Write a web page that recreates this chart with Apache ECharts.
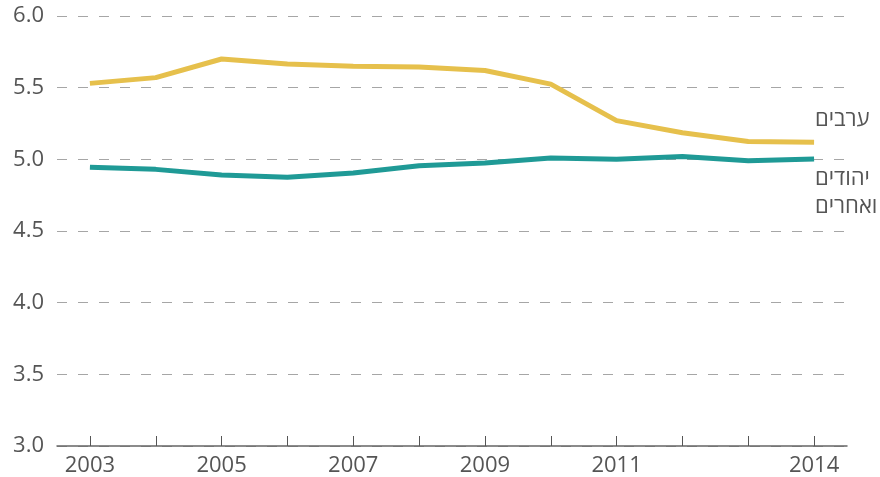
<!DOCTYPE html>
<html><head><meta charset="utf-8">
<script src="https://cdn.jsdelivr.net/npm/echarts@6/dist/echarts.min.js"></script>
<style>html,body{margin:0;padding:0;background:#fff}#c{width:880px;height:477px}</style>
</head><body><div id="c"></div>
<script>
const years = ['2003','2004','2005','2006','2007','2008','2009','2010','2011','2012','2013','2014'];
const shownYears = ['2003','2005','2007','2009','2011','2014'];
const arabs = [5.53, 5.57, 5.70, 5.665, 5.65, 5.645, 5.62, 5.525, 5.27, 5.185, 5.125, 5.12];
const jewsOthers = [4.945, 4.93, 4.89, 4.875, 4.905, 4.955, 4.975, 5.01, 5.0, 5.02, 4.99, 5.003];
const arabsLabel = 'ערבים';
const jewsLabel = 'יהודים\nואחרים';
const yTicks = { min: 3, max: 6, interval: 0.5 };

const chart = echarts.init(document.getElementById('c'), null, {renderer:'canvas'});
const font = '"Open Sans", "Noto Sans", sans-serif';
const fs = 22;
chart.setOption({
  animation: false,
  grid: { left: 57, right: 33, top: 16, bottom: 30 },
  xAxis: {
    type: 'category', data: years, boundaryGap: true, z: 5,
    axisLine: { show: true, lineStyle: { color: '#666', width: 1.5 } },
    axisTick: { show: true, inside: true, length: 10, alignWithLabel: true, interval: 0, lineStyle: { color: '#555', width: 1 } },
    axisLabel: {
      interval: 0, margin: 9, color: '#555', fontSize: fs, fontFamily: font,
      formatter: v => shownYears.includes(v) ? v : ''
    },
    splitLine: { show: false }
  },
  yAxis: {
    type: 'value', min: yTicks.min, max: yTicks.max, interval: yTicks.interval,
    axisLine: { show: false }, axisTick: { show: false },
    axisLabel: { margin: 13, color: '#555', fontSize: fs, fontFamily: font, formatter: v => v.toFixed(1) },
    splitLine: { lineStyle: { color: '#a6a6a6', type: [10, 11], width: 1 } }
  },
  series: [
    { name: arabsLabel, type: 'line', data: arabs, symbol: 'none', lineStyle: { color: '#E6C04C', width: 5 },
      endLabel: { show: true, formatter: arabsLabel, color: '#555', fontSize: fs, fontFamily: font, offset: [-7, -22] } },
    { name: jewsLabel, type: 'line', data: jewsOthers, symbol: 'none', lineStyle: { color: '#1F9A96', width: 5 },
      endLabel: { show: true, formatter: jewsLabel, color: '#555', fontSize: fs, fontFamily: font, lineHeight: 28, offset: [-7, 34] } }
  ]
});
</script></body></html>
